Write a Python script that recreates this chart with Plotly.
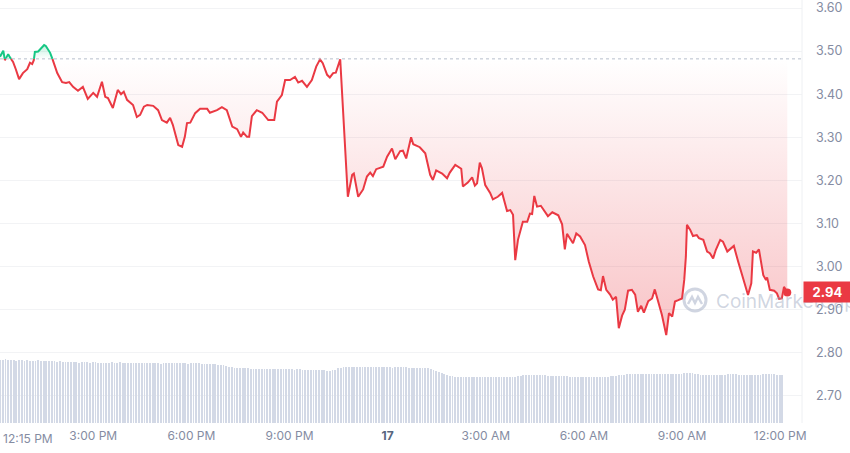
import numpy as np
import pandas as pd
import plotly.graph_objects as go

# ---------------- data ----------------
START = pd.Timestamp("2024-04-16 12:09")   # first sample of the 24h window
OPEN_PRICE = 3.482                          # reference (open) price, dotted line

# minutes after START, price in USD
minutes = [0, 6, 9, 15, 18, 24, 29, 35, 42, 50,
           55, 59, 62, 64, 70, 75, 81, 84, 92, 97,
           105, 114, 121, 127, 134, 143, 152, 161, 171, 178,
           187, 193, 198, 207, 216, 222, 227, 233, 244, 251,
           257, 264, 270, 281, 290, 297, 306, 312, 317, 327,
           334, 339, 343, 349, 358, 367, 380, 385, 398, 407,
           416, 426, 435, 442, 446, 453, 457, 462, 471, 481,
           492, 503, 508, 517, 523, 532, 541, 547, 554, 563,
           572, 580, 587, 592, 600, 605, 611, 616, 624, 638,
           646, 649, 657, 666, 673, 679, 684, 690, 703, 710,
           719, 725, 734, 739, 745, 754, 758, 770, 780, 789,
           794, 800, 811, 820, 825, 835, 846, 849, 858, 866,
           871, 875, 880, 884, 890, 899, 904, 913, 921, 930,
           936, 941, 945, 950, 956, 959, 967, 972, 976, 980,
           985, 992, 1005, 1013, 1024, 1031, 1036, 1040, 1051, 1057,
           1064, 1073, 1080, 1088, 1097, 1102, 1106, 1112, 1119, 1124,
           1130, 1135, 1141, 1146, 1152, 1159, 1165, 1170, 1176, 1181,
           1189, 1196, 1201, 1207, 1214, 1222, 1227, 1233, 1238, 1244,
           1251, 1255, 1258, 1260, 1266, 1271, 1278, 1282, 1290, 1297,
           1302, 1308, 1313, 1321, 1326, 1334, 1339, 1346, 1354, 1363,
           1372, 1378, 1381, 1387, 1392, 1400, 1405, 1407, 1412, 1420,
           1425, 1429, 1434, 1438, 1444]

price = [3.487, 3.501, 3.479, 3.493, 3.486, 3.475, 3.458, 3.435, 3.449, 3.458,
         3.473, 3.470, 3.479, 3.498, 3.499, 3.505, 3.514, 3.512, 3.496, 3.479,
         3.449, 3.428, 3.426, 3.428, 3.417, 3.408, 3.417, 3.389, 3.403, 3.394,
         3.429, 3.394, 3.391, 3.368, 3.410, 3.400, 3.406, 3.387, 3.375, 3.347,
         3.352, 3.371, 3.375, 3.373, 3.363, 3.340, 3.334, 3.345, 3.329, 3.282,
         3.278, 3.301, 3.333, 3.334, 3.356, 3.366, 3.366, 3.357, 3.363, 3.370,
         3.363, 3.325, 3.319, 3.301, 3.311, 3.301, 3.301, 3.349, 3.363, 3.357,
         3.340, 3.340, 3.383, 3.398, 3.433, 3.433, 3.440, 3.427, 3.431, 3.417,
         3.433, 3.464, 3.481, 3.472, 3.445, 3.439, 3.449, 3.450, 3.481, 3.162,
         3.213, 3.216, 3.162, 3.179, 3.209, 3.218, 3.210, 3.226, 3.232, 3.255,
         3.274, 3.249, 3.268, 3.269, 3.251, 3.300, 3.284, 3.277, 3.263, 3.213,
         3.201, 3.223, 3.216, 3.205, 3.218, 3.236, 3.227, 3.186, 3.195, 3.207,
         3.188, 3.193, 3.241, 3.228, 3.189, 3.171, 3.156, 3.162, 3.171, 3.129,
         3.131, 3.120, 3.015, 3.062, 3.090, 3.104, 3.104, 3.123, 3.122, 3.164,
         3.139, 3.141, 3.117, 3.126, 3.119, 3.098, 3.040, 3.076, 3.054, 3.077,
         3.070, 3.050, 3.011, 2.977, 2.947, 2.945, 2.978, 2.946, 2.935, 2.923,
         2.930, 2.857, 2.886, 2.900, 2.944, 2.946, 2.935, 2.895, 2.909, 2.893,
         2.920, 2.926, 2.947, 2.922, 2.888, 2.841, 2.892, 2.884, 2.919, 2.922,
         2.926, 2.969, 3.023, 3.097, 3.085, 3.071, 3.073, 3.066, 3.062, 3.035,
         3.031, 3.019, 3.039, 3.062, 3.058, 3.035, 3.040, 3.048, 3.011, 2.973,
         2.934, 2.961, 3.035, 3.032, 3.040, 2.980, 2.969, 2.975, 2.946, 2.944,
         2.938, 2.925, 2.926, 2.953, 2.940]

# 5-minute volume bars (relative units)
volume = [63, 63, 64, 63, 63, 63, 62, 63, 63, 62, 63, 62, 62, 62, 63, 62, 62, 62, 62, 62,
          62, 61, 62, 61, 61, 61, 61, 61, 61, 60, 61, 61, 61, 60, 61, 61,
          60, 60, 60, 60, 60, 61, 60, 60, 61, 60, 60, 60, 60, 60, 60, 60, 60, 60, 60,
          60, 60, 60, 60, 59, 60, 60, 60, 60, 60, 60, 60, 60, 60, 59, 60, 60, 60, 60,
          59, 59, 59, 59, 59, 59, 58, 58, 58, 57,
          56, 56, 55, 55, 55, 55, 55, 55,
          54, 54, 54, 54, 54, 54, 54, 54, 54, 54, 54, 54, 54, 54, 54, 54,
          53, 54, 54, 53, 53, 53, 53, 53, 53, 53, 53, 53, 52, 52, 53, 53,
          55, 55, 56, 56, 56, 56, 56, 56, 56, 56, 56, 56, 56, 56, 56, 56, 56,
          56, 56, 56, 55, 56, 56, 56, 56, 56, 55, 55, 55, 55, 55, 55, 55,
          55, 54, 53, 52, 51, 50, 49, 48, 47, 47, 46,
          46, 46, 46, 46, 46, 46, 46, 46, 46, 46, 46, 46, 46, 46, 46, 46, 46, 46, 46, 46, 46, 46,
          47, 47, 48, 48, 48, 48, 48, 48, 48, 48, 48, 47, 47, 47, 47, 47, 47, 47, 47,
          46, 46, 46, 46, 46, 46, 46, 46, 46, 46, 46, 46, 46, 46, 46, 47, 47, 47,
          48, 48, 48, 49, 49, 49, 49, 49, 49, 49, 49, 49, 49, 49, 49, 49, 49, 49, 49, 49, 49, 49, 49, 49,
          50, 50, 50, 50, 49, 49,
          48, 48, 48, 48, 48, 48, 48, 48, 48, 48, 49, 49, 49, 49, 48, 48, 48, 48, 48, 48,
          48, 48, 48, 49, 49, 49, 49, 49, 48, 48, 48]

x_tick_times = ["2024-04-16 15:00", "2024-04-16 18:00", "2024-04-16 21:00", "2024-04-17 00:00",
                "2024-04-17 03:00", "2024-04-17 06:00", "2024-04-17 09:00", "2024-04-17 12:00"]
x_tick_text = ["3:00 PM", "6:00 PM", "9:00 PM", "<b><span style='color:#58667e'>17</span></b>",
               "3:00 AM", "6:00 AM", "9:00 AM", "12:00 PM"]
first_label = "12:15 PM"
y_ticks = [2.70, 2.80, 2.90, 3.00, 3.10, 3.20, 3.30, 3.40, 3.50, 3.60]

# ---------------- styling ----------------
RED = "#ea3943"
GREEN = "#16c784"
GREY = "#858ca2"
FONT = "Inter"

# split the line at the open-price level
t = np.array(minutes, float)
p = np.array(price, float)
xs, ys = [t[0]], [p[0]]
for i in range(1, len(t)):
    a, b = p[i - 1] - OPEN_PRICE, p[i] - OPEN_PRICE
    if a * b < 0:
        xs.append(t[i - 1] + (t[i] - t[i - 1]) * a / (a - b))
        ys.append(OPEN_PRICE)
    xs.append(t[i])
    ys.append(p[i])
xs = np.array(xs)
ys = np.array(ys)
times = START + pd.to_timedelta(xs, unit="min")

red_line = np.where(ys <= OPEN_PRICE + 1e-12, ys, np.nan)
green_line = np.where(ys >= OPEN_PRICE - 1e-12, ys, np.nan)
red_fill = np.minimum(ys, OPEN_PRICE)
green_fill = np.maximum(ys, OPEN_PRICE)
base = np.full(len(xs), OPEN_PRICE)

vol_times = START + pd.to_timedelta([5 * i for i in range(len(volume))], unit="min")

fig = go.Figure()

# volume bars (own hidden axis)
fig.add_trace(go.Bar(x=vol_times, y=volume, yaxis="y2",
                     marker=dict(color="#d3d9e6", line=dict(width=0)),
                     width=5 * 60 * 1000 * 0.3, hoverinfo="skip", showlegend=False))

# red area (below open)
fig.add_trace(go.Scatter(x=times, y=base, mode="lines", line=dict(width=0),
                         hoverinfo="skip", showlegend=False))
fig.add_trace(go.Scatter(x=times, y=red_fill, mode="lines", line=dict(width=0),
                         fill="tonexty",
                         fillgradient=dict(type="vertical",
                                           colorscale=[[0, "rgba(234,57,67,0.30)"],
                                                       [1, "rgba(234,57,67,0.0)"]],
                                           start=min(price), stop=OPEN_PRICE),
                         hoverinfo="skip", showlegend=False))
# green area (above open)
fig.add_trace(go.Scatter(x=times, y=base, mode="lines", line=dict(width=0),
                         hoverinfo="skip", showlegend=False))
fig.add_trace(go.Scatter(x=times, y=green_fill, mode="lines", line=dict(width=0),
                         fill="tonexty",
                         fillgradient=dict(type="vertical",
                                           colorscale=[[0, "rgba(22,199,132,0.0)"],
                                                       [1, "rgba(22,199,132,0.25)"]],
                                           start=OPEN_PRICE, stop=max(price)),
                         hoverinfo="skip", showlegend=False))

# open-price dotted line
fig.add_hline(y=OPEN_PRICE, line=dict(color="#b8bfcc", width=1, dash="dot"))

# price lines
fig.add_trace(go.Scatter(x=times, y=red_line, mode="lines",
                         line=dict(color=RED, width=2), connectgaps=False, showlegend=False))
fig.add_trace(go.Scatter(x=times, y=green_line, mode="lines",
                         line=dict(color=GREEN, width=2), connectgaps=False, showlegend=False))
# last point marker
fig.add_trace(go.Scatter(x=[times[-1]], y=[price[-1]], mode="markers",
                         marker=dict(color=RED, size=8), showlegend=False))

x_start = START
x_end = START + pd.Timedelta(minutes=1471)

fig.update_layout(
    width=850, height=453,
    margin=dict(l=0, r=48, t=0, b=30, autoexpand=False),
    paper_bgcolor="white", plot_bgcolor="white",
    font=dict(family=FONT, color=GREY, size=12),
    bargap=0,
    xaxis=dict(type="date", range=[x_start, x_end], showgrid=False, zeroline=False,
               showline=False, tickvals=pd.to_datetime(x_tick_times), ticktext=x_tick_text,
               tickfont=dict(size=12, color=GREY), ticks="", ticklabelstandoff=4,
               automargin=False),
    yaxis=dict(side="right", range=[2.637, 3.6186], tickvals=y_ticks,
               tickformat=".2f", showgrid=True, gridcolor="#f2f3f5", gridwidth=1,
               zeroline=False, showline=False, ticks="", automargin=False,
               tickfont=dict(size=12.5, color=GREY), ticklabelstandoff=13),
    yaxis2=dict(overlaying="y", range=[0, 423], visible=False),
    showlegend=False,
)

# right border of plotting area
fig.add_shape(type="line", xref="paper", yref="paper", x0=1, x1=1, y0=0, y1=1,
              line=dict(color="#eef0f3", width=1))

# first time label (left aligned at start)
fig.add_annotation(xref="paper", yref="paper", x=0, y=0, xanchor="left", yanchor="top",
                   text=first_label, showarrow=False, yshift=-6, xshift=1,
                   font=dict(size=12, color=GREY, family=FONT))

# watermark logo + text
WM = "rgba(150,162,188,0.45)"
fig.add_shape(type="circle", xref="paper", yref="paper",
              x0=684 / 802, x1=706 / 802, y0=(423 - 311) / 423, y1=(423 - 289) / 423,
              line=dict(color=WM, width=3))
fig.add_shape(type="path", xref="paper", yref="paper",
              path=(f"M {688/802} {(423-304)/423} L {692/802} {(423-297)/423} "
                    f"L {695/802} {(423-303)/423} L {698/802} {(423-297)/423} "
                    f"L {702/802} {(423-304)/423}"),
              line=dict(color=WM, width=2.5))
fig.add_annotation(xref="paper", yref="paper", x=714 / 802, y=(423 - 301) / 423,
                   xanchor="left", yanchor="middle", text="CoinMarketCap", showarrow=False,
                   font=dict(size=19, color=WM, family=FONT))

# current price label
fig.add_annotation(xref="paper", yref="y", x=1, y=price[-1], xanchor="left", yanchor="middle",
                   text=f"<b>{price[-1]:.2f}</b>", showarrow=False, xshift=1,
                   bgcolor=RED, font=dict(size=13, color="white", family=FONT),
                   width=41, height=14, borderpad=3)

fig.write_html("out.html",
               config={"displayModeBar": False},
               post_script="document.body.style.margin='0';document.body.style.padding='0';")
